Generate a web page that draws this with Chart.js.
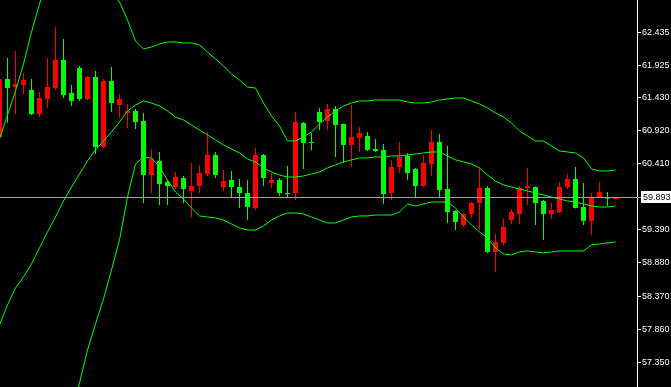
<!DOCTYPE html>
<html>
<head>
<meta charset="utf-8">
<script src="https://cdn.jsdelivr.net/npm/chart.js@4.4.0/dist/chart.umd.min.js"></script>
<style>
  html, body { margin: 0; padding: 0; background: #000; overflow: hidden; }
  #wrap { width: 671px; height: 387px; }
</style>
</head>
<body>
<div id="wrap"><canvas id="priceChart"></canvas></div>
<script>
// candles, left to right (first one is half cut off by the left edge)
const openP = [
  60.822, 61.715, 61.592, 61.623, 61.546, 61.176, 61.407, 61.577, 62.008, 61.500,
  61.885, 61.407, 61.746, 60.668, 61.685, 61.315, 61.192, 61.223, 61.069, 60.236,
  60.453, 60.128, 60.051, 60.190, 59.990, 60.067, 60.251, 60.545, 60.051, 60.159,
  60.051, 59.959, 59.728, 60.545, 60.113, 60.159, 59.951, 59.959, 61.038, 60.745,
  61.207, 61.069, 61.253, 61.022, 60.699, 60.807, 60.838, 60.637, 60.622, 59.959,
  60.360, 60.530, 60.329, 60.067, 60.406, 60.745, 60.020, 59.682, 59.466, 59.635,
  59.805, 60.036, 59.050, 59.189, 59.543, 59.635, 60.036, 60.051, 59.836, 59.635,
  59.666, 60.051, 60.174, 59.743, 59.528, 59.897, 59.890, 59.867
];
const highP = [
  61.762, 62.039, 62.148, 61.808, 61.715, 61.515, 62.039, 62.517, 62.332, 61.623,
  61.916, 61.762, 61.839, 61.715, 61.900, 61.484, 61.330, 61.253, 61.192, 60.637,
  60.591, 60.159, 60.282, 60.221, 60.422, 60.391, 60.899, 60.591, 60.313, 60.298,
  60.174, 60.159, 60.653, 60.560, 60.267, 60.190, 60.376, 61.207, 61.053, 60.884,
  61.269, 61.330, 61.300, 61.030, 61.315, 60.976, 60.899, 60.791, 60.714, 60.468,
  60.745, 60.576, 60.345, 60.545, 60.930, 60.868, 60.684, 59.697, 59.651, 59.820,
  60.345, 60.067, 59.327, 59.574, 59.712, 60.067, 60.345, 60.060, 59.851, 59.805,
  60.128, 60.251, 60.360, 60.113, 59.959, 60.128, 59.974, 59.902
];
const lowP = [
  60.776, 61.038, 61.176, 61.484, 61.161, 61.130, 61.269, 61.546, 61.423, 61.300,
  61.377, 61.392, 60.560, 60.653, 61.207, 61.115, 60.961, 60.945, 59.805, 59.959,
  59.774, 59.774, 60.020, 59.805, 59.589, 59.959, 60.221, 60.190, 59.990, 59.897,
  59.728, 59.543, 59.697, 60.067, 60.036, 59.913, 59.897, 59.851, 60.329, 60.622,
  60.930, 60.930, 60.514, 60.422, 60.360, 60.591, 60.606, 60.591, 59.789, 59.851,
  60.267, 60.159, 59.882, 60.051, 60.221, 59.897, 59.497, 59.389, 59.435, 59.574,
  59.389, 59.035, 58.742, 59.158, 59.481, 59.481, 59.774, 59.466, 59.235, 59.558,
  59.651, 60.020, 59.720, 59.466, 59.312, 59.890, 59.759, 59.862
];
const closeP = [
  61.715, 61.577, 61.638, 61.700, 61.176, 61.423, 61.592, 62.008, 61.469, 61.377,
  61.407, 61.746, 60.668, 61.685, 61.346, 61.407, 61.223, 61.053, 60.236, 60.483,
  60.097, 60.067, 60.205, 60.020, 60.067, 60.267, 60.545, 60.236, 60.144, 60.051,
  59.959, 59.743, 60.545, 60.190, 60.159, 59.959, 59.944, 61.053, 60.730, 60.730,
  61.053, 61.253, 61.007, 60.699, 60.822, 60.884, 60.622, 60.606, 59.943, 60.360,
  60.514, 60.267, 60.067, 60.422, 60.745, 60.005, 59.666, 59.512, 59.635, 59.805,
  60.036, 59.050, 59.204, 59.435, 59.666, 60.036, 60.067, 59.805, 59.635, 59.697,
  60.051, 60.174, 59.728, 59.528, 59.897, 59.974, 59.874, 59.893
];

// bollinger bands (values beyond the edges are guesses)
const bbUpper = [
  60.791, 61.161, 61.531, 61.946, 62.440, 62.871, 63.272, 63.519, 63.626, 63.580,
  63.472, 63.364, 63.303, 63.195, 63.056, 62.902, 62.625, 62.302, 62.178, 62.209,
  62.255, 62.286, 62.286, 62.271, 62.271, 62.240, 62.132, 62.024, 61.916, 61.793,
  61.700, 61.592, 61.577, 61.346, 61.146, 60.992, 60.761, 60.761, 60.822, 60.899,
  61.022, 61.130, 61.223, 61.300, 61.346, 61.377, 61.377, 61.392, 61.392, 61.392,
  61.392, 61.361, 61.346, 61.346, 61.361, 61.392, 61.407, 61.423, 61.423, 61.377,
  61.330, 61.269, 61.192, 61.130, 61.038, 60.915, 60.838, 60.761, 60.761, 60.684,
  60.606, 60.591, 60.576, 60.499, 60.329, 60.298, 60.298, 60.313
];
const bbMiddle = [
  57.925, 58.233, 58.495, 58.665, 58.865, 59.112, 59.358, 59.589, 59.836, 60.051,
  60.251, 60.453, 60.622, 60.761, 60.899, 61.053, 61.223, 61.315, 61.377, 61.346,
  61.300, 61.223, 61.130, 61.084, 61.007, 60.930, 60.853, 60.776, 60.699, 60.637,
  60.576, 60.483, 60.437, 60.345, 60.282, 60.236, 60.205, 60.205, 60.221, 60.251,
  60.282, 60.345, 60.391, 60.437, 60.468, 60.499, 60.499, 60.514, 60.514, 60.530,
  60.530, 60.545, 60.560, 60.576, 60.591, 60.591, 60.530, 60.468, 60.437, 60.406,
  60.345, 60.236, 60.144, 60.082, 60.051, 60.020, 59.990, 59.959, 59.928, 59.897,
  59.866, 59.836, 59.820, 59.789, 59.759, 59.743, 59.743, 59.759
];
const bbLower = [
  55.214, 55.275, 55.460, 55.383, 55.291, 55.352, 55.445, 55.660, 56.045, 56.523,
  57.032, 57.540, 57.940, 58.325, 58.773, 59.235, 59.897, 60.406, 60.514, 60.499,
  60.360, 60.159, 59.974, 59.866, 59.728, 59.605, 59.589, 59.574, 59.543, 59.481,
  59.420, 59.389, 59.389, 59.451, 59.543, 59.605, 59.651, 59.651, 59.635, 59.589,
  59.543, 59.497, 59.497, 59.543, 59.589, 59.605, 59.605, 59.620, 59.620, 59.620,
  59.666, 59.789, 59.759, 59.789, 59.820, 59.820, 59.820, 59.728, 59.589, 59.466,
  59.358, 59.266, 59.112, 59.020, 59.004, 59.050, 59.066, 59.050, 59.035, 59.050,
  59.066, 59.066, 59.066, 59.066, 59.158, 59.173, 59.189, 59.204
];

const yTicks = [62.435, 61.925, 61.430, 60.920, 60.410, 59.390, 58.880, 58.370, 57.860, 57.350];
const lastPrice = 59.893;
const yMin = 56.969;
const yMax = 62.933;
// visible bar slots: a little empty room is left right of the last candle
const xMin = 0.0625;
const xMax = 79.6875;

const bars = openP.map((_, i) => i);
const candleColors = bars.map(i => closeP[i] >= openP[i] ? "#ff0000" : "#00ff00");

function bandDataset(values) {
  return {
    type: "line",
    data: bars.map(i => ({ x: i, y: values[i] })),
    borderColor: "#00ff00",
    borderWidth: 1,
    pointRadius: 0,
    tension: 0,
    order: 0,
  };
}

// current price line + white price box on the axis
const priceLine = {
  id: "priceLine",
  afterDraw(chart) {
    const { ctx, chartArea, scales } = chart;
    const py = Math.round(scales.y.getPixelForValue(lastPrice)) + 0.5;
    ctx.save();
    ctx.strokeStyle = "#a0a0a0";
    ctx.lineWidth = 1;
    ctx.beginPath();
    ctx.moveTo(chartArea.left, py);
    ctx.lineTo(chartArea.right + 4, py);
    ctx.stroke();
    ctx.fillStyle = "#ffffff";
    ctx.fillRect(chartArea.right + 4, py - 6.5, 40, 12);
    ctx.fillStyle = "#000000";
    ctx.font = '9px "Liberation Sans"';
    ctx.textBaseline = "middle";
    ctx.fillText(lastPrice.toFixed(3), chartArea.right + 6, py);
    ctx.restore();
  },
};

const ctx = document.getElementById("priceChart").getContext("2d");
new Chart(ctx, {
  type: "bar",
  data: {
    datasets: [
      bandDataset(bbUpper),
      bandDataset(bbMiddle),
      bandDataset(bbLower),
      {
        label: "body",
        data: bars.map(i => ({ x: i, y: [openP[i], closeP[i]] })),
        backgroundColor: candleColors,
        barThickness: 5,
        minBarLength: 1,
        grouped: false,
        inflateAmount: 0,
        order: 1,
      },
      {
        label: "wick",
        data: bars.map(i => ({ x: i, y: [lowP[i], highP[i]] })),
        backgroundColor: candleColors,
        barThickness: 1,
        grouped: false,
        inflateAmount: 0,
        order: 2,
      },
    ],
  },
  options: {
    animation: false,
    responsive: true,
    maintainAspectRatio: false,
    layout: { padding: 0 },
    plugins: {
      legend: { display: false },
      tooltip: { enabled: false },
    },
    scales: {
      x: {
        type: "linear",
        min: xMin,
        max: xMax,
        offset: false,
        bounds: "data",
        grid: { offset: false },
        afterDataLimits: (scale) => {
          scale.min = xMin;
          scale.max = xMax;
        },
        display: false,
      },
      y: {
        position: "right",
        min: yMin,
        max: yMax,
        afterBuildTicks: (scale) => {
          scale.ticks = yTicks.map(v => ({ value: v }));
        },
        afterFit: (scale) => {
          scale.width = 34;
          scale.paddingTop = 0;
          scale.paddingBottom = 0;
        },
        grid: {
          drawOnChartArea: false,
          color: "#ffffff",
          tickLength: 4,
        },
        border: { color: "#ffffff", width: 1 },
        ticks: {
          color: "#ffffff",
          padding: 1,
          font: { family: "Liberation Sans", size: 9 },
          callback: (v) => Number(v).toFixed(3),
        },
      },
    },
  },
  plugins: [priceLine],
});
</script>
</body>
</html>
